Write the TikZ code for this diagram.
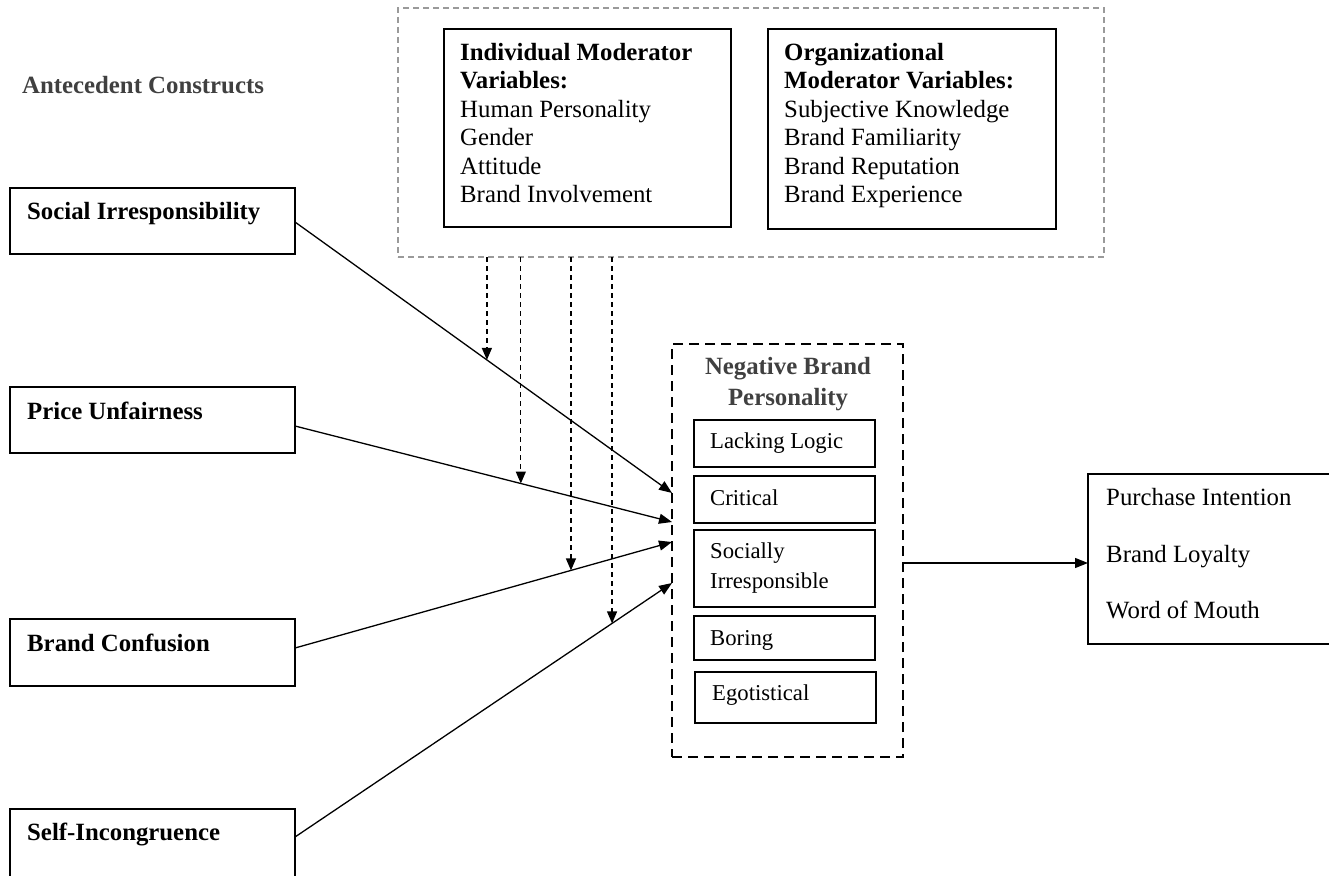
\documentclass[tikz,border=0pt]{standalone}
\usepackage{fontspec}
\setmainfont{Liberation Serif}
\usetikzlibrary{arrows.meta,calc}
\definecolor{headgray}{HTML}{404040}
\definecolor{framegray}{HTML}{9A9A9A}

\begin{document}
\begin{tikzpicture}[x=1pt,y=-1pt,
  box/.style={draw, line width=1.6pt, rectangle, inner sep=0pt, outer sep=0pt, anchor=north west},
  txt/.style={anchor=base west, inner sep=0pt, font=\fontsize{24.8}{28}\selectfont},
  boldtxt/.style={anchor=base west, inner sep=0pt, font=\fontsize{24.8}{28}\selectfont\bfseries},
  smalltxt/.style={anchor=base west, inner sep=0pt, font=\fontsize{22.7}{26}\selectfont},
  link/.style={line width=1.3pt, -{Triangle[length=13pt,width=10pt]}},
  modlink/.style={line width=1.3pt, dash pattern=on 5pt off 4pt, -{Triangle[length=12pt,width=10pt]}},
]
\useasboundingbox (0,0) rectangle (1329,875);
\fill[white] (0,0) rectangle (1329,875);

% moderator frame with its two boxes
\node[box, minimum width=706, minimum height=249, draw=framegray, line width=1.3pt,
      dash pattern=on 6pt off 4pt] (mods) at (398,8) {};
\node[box, minimum width=287, minimum height=198] (ind) at (444,29) {};
\node[box, minimum width=288, minimum height=200] (org) at (768,29) {};

\node[boldtxt] (ind1) at (460,60)    {Individual Moderator};
\node[boldtxt] (ind2) at (460,88.5)  {Variables:};
\node[txt]     (ind3) at (460,117)   {Human Personality};
\node[txt]     (ind4) at (460,145.5) {Gender};
\node[txt]     (ind5) at (460,174)   {Attitude};
\node[txt]     (ind6) at (460,202.5) {Brand Involvement};

\node[boldtxt] (org1) at (784,60)    {Organizational};
\node[boldtxt] (org2) at (784,88.5)  {Moderator Variables:};
\node[txt]     (org3) at (784,117)   {Subjective Knowledge};
\node[txt]     (org4) at (784,145.5) {Brand Familiarity};
\node[txt]     (org5) at (784,174)   {Brand Reputation};
\node[txt]     (org6) at (784,202.5) {Brand Experience};

% antecedent constructs
\node[boldtxt, text=headgray] (ante) at (22,93) {Antecedent Constructs};

\node[box, minimum width=285, minimum height=66] (si) at (10,188) {};
\node[boldtxt] (sitxt) at (27,219) {Social Irresponsibility};
\node[box, minimum width=285, minimum height=66] (pu) at (10,387) {};
\node[boldtxt] (putxt) at (27,419) {Price Unfairness};
\node[box, minimum width=285, minimum height=67] (bc) at (10,619) {};
\node[boldtxt] (bctxt) at (27,651) {Brand Confusion};
\node[box, minimum width=285, minimum height=80] (sc) at (10,809) {};
\node[boldtxt] (sctxt) at (27,840) {Self-Incongruence};

% negative brand personality
\node[box, minimum width=231, minimum height=413, line width=2pt,
      dash pattern=on 10pt off 6pt] (nbp) at (672,344) {};
\node[anchor=base, inner sep=0pt, text=headgray, font=\fontsize{24.8}{28}\selectfont\bfseries]
  (nbph1) at (788,374) {Negative Brand};
\node[anchor=base, inner sep=0pt, text=headgray, font=\fontsize{24.8}{28}\selectfont\bfseries]
  (nbph2) at (788,405) {Personality};

\node[box, minimum width=181, minimum height=47] (ll)  at (694,420) {};
\node[smalltxt] (lltxt) at (710,448) {Lacking Logic};
\node[box, minimum width=181, minimum height=47] (cr)  at (694,476) {};
\node[smalltxt] (crtxt) at (710,505) {Critical};
\node[box, minimum width=181, minimum height=77] (soc) at (694,530) {};
\node[smalltxt] (soctxt1) at (710,558) {Socially};
\node[smalltxt] (soctxt2) at (710,588) {Irresponsible};
\node[box, minimum width=181, minimum height=44] (bor) at (694,616) {};
\node[smalltxt] (bortxt) at (710,645) {Boring};
\node[box, minimum width=181, minimum height=51] (ego) at (695,672) {};
\node[smalltxt] (egotxt) at (712,700) {Egotistical};

% outcomes
\node[box, minimum width=260, minimum height=170] (oc) at (1088,474) {};
\node[txt] (oc1) at (1106,505) {Purchase Intention};
\node[txt] (oc2) at (1106,562) {Brand Loyalty};
\node[txt] (oc3) at (1106,618) {Word of Mouth};

% antecedent paths
\draw[link] ($(si.east)+(0,1)$) -- coordinate[pos=0.509] (m1) ($(nbp.north west)+(0,149)$);
\draw[link] ($(pu.east)+(0,6)$) -- coordinate[pos=0.599] (m2) ($(nbp.north west)+(0,178)$);
\draw[link] ($(bc.east)+(0,-4.5)$) -- coordinate[pos=0.732] (m3) ($(nbp.north west)+(0,198)$);
\draw[link] ($(sc.north east)+(0,28)$) -- coordinate[pos=0.841] (m4) ($(nbp.north west)+(0,239)$);

% moderating effects
\foreach \m in {m1,m2,m3,m4}
  \draw[modlink] (mods.south -| \m) -- (\m);

% consequences
\draw[link] ($(nbp.north east)+(0,219)$) -- ($(oc.north west)+(0,89)$);
\end{tikzpicture}
\end{document}
